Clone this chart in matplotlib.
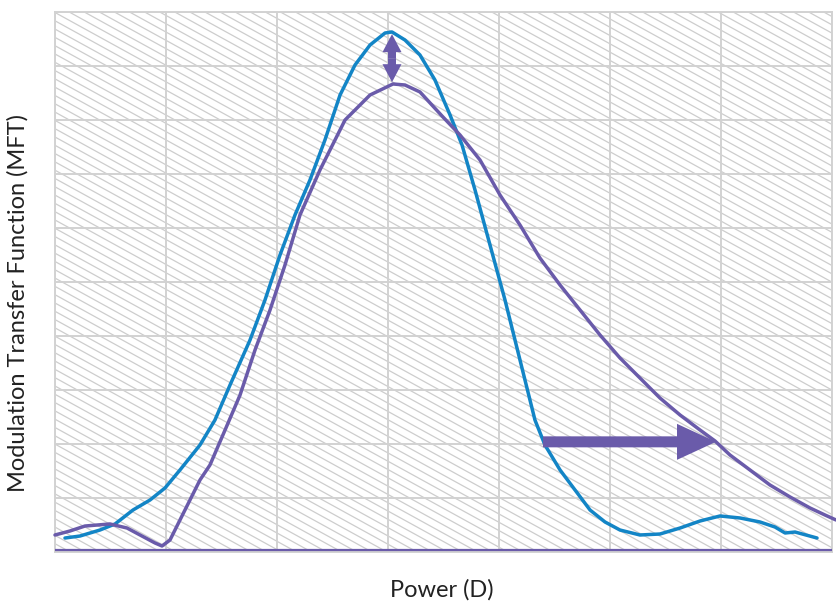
import numpy as np
import matplotlib
matplotlib.use("Agg")
import matplotlib.pyplot as plt

# Data (x in grid units, y in grid units)
blue_x = [0.090, 0.225, 0.405, 0.541, 0.703, 0.856, 0.991, 1.126, 1.306, 1.441, 1.577, 1.757,
          1.892, 2.027, 2.162, 2.297, 2.432, 2.568, 2.703, 2.838, 2.973, 3.036, 3.153, 3.288,
          3.423, 3.559, 3.667, 3.784, 3.919, 4.054, 4.189, 4.324, 4.414, 4.550, 4.685, 4.820,
          4.955, 5.090, 5.270, 5.450, 5.631, 5.811, 5.991, 6.171, 6.351, 6.486, 6.577, 6.667, 6.865]
blue_y = [0.259, 0.296, 0.407, 0.519, 0.778, 0.963, 1.185, 1.519, 1.981, 2.444, 3.093, 3.926,
          4.667, 5.500, 6.241, 6.889, 7.630, 8.463, 9.019, 9.389, 9.611, 9.630, 9.481, 9.204,
          8.741, 8.093, 7.537, 6.704, 5.685, 4.667, 3.556, 2.444, 1.981, 1.519, 1.148, 0.778,
          0.556, 0.407, 0.315, 0.333, 0.444, 0.574, 0.667, 0.630, 0.556, 0.463, 0.352, 0.370, 0.259]

purple_x = [0.000, 0.135, 0.270, 0.495, 0.649, 0.766, 0.901, 0.964, 1.036, 1.126, 1.306, 1.396,
            1.532, 1.667, 1.802, 1.937, 2.072, 2.207, 2.387, 2.613, 2.838, 3.045, 3.153, 3.288,
            3.495, 3.649, 3.829, 4.009, 4.189, 4.369, 4.550, 4.730, 4.910, 5.090, 5.270, 5.450,
            5.631, 5.811, 5.946, 6.081, 6.261, 6.441, 6.622, 6.802, 6.937, 7.036]
purple_y = [0.315, 0.389, 0.481, 0.519, 0.444, 0.315, 0.167, 0.111, 0.222, 0.593, 1.333, 1.611,
            2.259, 2.907, 3.741, 4.481, 5.315, 6.241, 7.074, 8.000, 8.463, 8.667, 8.648, 8.519,
            8.056, 7.722, 7.259, 6.611, 6.056, 5.444, 4.944, 4.481, 4.019, 3.593, 3.222, 2.852,
            2.537, 2.259, 2.056, 1.796, 1.519, 1.241, 1.019, 0.815, 0.685, 0.593]

# annotation arrows
vert_arrow_x = 3.036
vert_arrow_y = (8.70, 9.59)
horiz_arrow_y = 2.04
horiz_arrow_x = (4.396, 5.955)

BLUE = "#1385C6"
PURPLE = "#6A5BAA"
GRID = "#d2d2d2"

fig = plt.figure(figsize=(8.36, 6.01), dpi=100)
ax = fig.add_axes([55/836, 49/601, 777/836, 540/601])
XMAX, YMAX = 7, 10
ax.set_xlim(0, XMAX)
ax.set_ylim(0, YMAX)

# diagonal hatching background (decoration), built in pixel space of the axes
W, H = 777.0, 540.0
slope_px = 0.55
spacing_v = 8.3
for c in np.arange(0, H + slope_px * W + spacing_v, spacing_v):
    xs = np.array([0.0, W])
    ys = c - slope_px * xs
    ax.plot(xs / W * XMAX, ys / H * YMAX, color="#cdcdcd", lw=0.9,
            zorder=0.5, solid_capstyle="butt")
ax.set_xlim(0, XMAX)
ax.set_ylim(0, YMAX)

ax.set_xticks(np.arange(0, XMAX + 1, 1))
ax.set_yticks(np.arange(0, YMAX + 1, 1))
ax.grid(True, color=GRID, lw=1.4, zorder=1)
ax.set_axisbelow(True)
ax.tick_params(length=0, labelbottom=False, labelleft=False)
for s in ax.spines.values():
    s.set_color(GRID)
    s.set_linewidth(1.4)

ax.axhline(0.04, color=PURPLE, lw=1.6, zorder=3)

ax.plot(blue_x, blue_y, color=BLUE, lw=2.5, zorder=4, clip_on=False,
        solid_capstyle="round", solid_joinstyle="round")
ax.plot(purple_x, purple_y, color=PURPLE, lw=2.5, zorder=4, clip_on=False,
        solid_capstyle="round", solid_joinstyle="round")

ms = 7.2  # 10 px in points
mid = (vert_arrow_y[0] + vert_arrow_y[1]) / 2
for yend in vert_arrow_y:
    ax.annotate("", xy=(vert_arrow_x, yend), xytext=(vert_arrow_x, mid),
                arrowprops=dict(arrowstyle="simple,head_length=1.8,head_width=1.9,tail_width=0.8",
                                color=PURPLE, lw=0, shrinkA=0, shrinkB=0,
                                mutation_scale=ms), zorder=5)
ax.annotate("", xy=(horiz_arrow_x[1], horiz_arrow_y), xytext=(horiz_arrow_x[0], horiz_arrow_y),
            arrowprops=dict(arrowstyle="simple,head_length=3.9,head_width=3.6,tail_width=1.1",
                            color=PURPLE, lw=0, shrinkA=0, shrinkB=0,
                            mutation_scale=ms), zorder=5)

fam = ['Lato', 'DejaVu Sans']
fig.text(442/836, 1 - 590/601, "Power (D)", ha="center", va="center", fontsize=17,
         color="#222222", family=fam)
fig.text(18/836, 1 - 303/601, "Modulation Transfer Function (MFT)", ha="center", va="center",
         rotation=90, fontsize=17, color="#222222", family=fam)

fig.savefig("out.png", dpi=100)
